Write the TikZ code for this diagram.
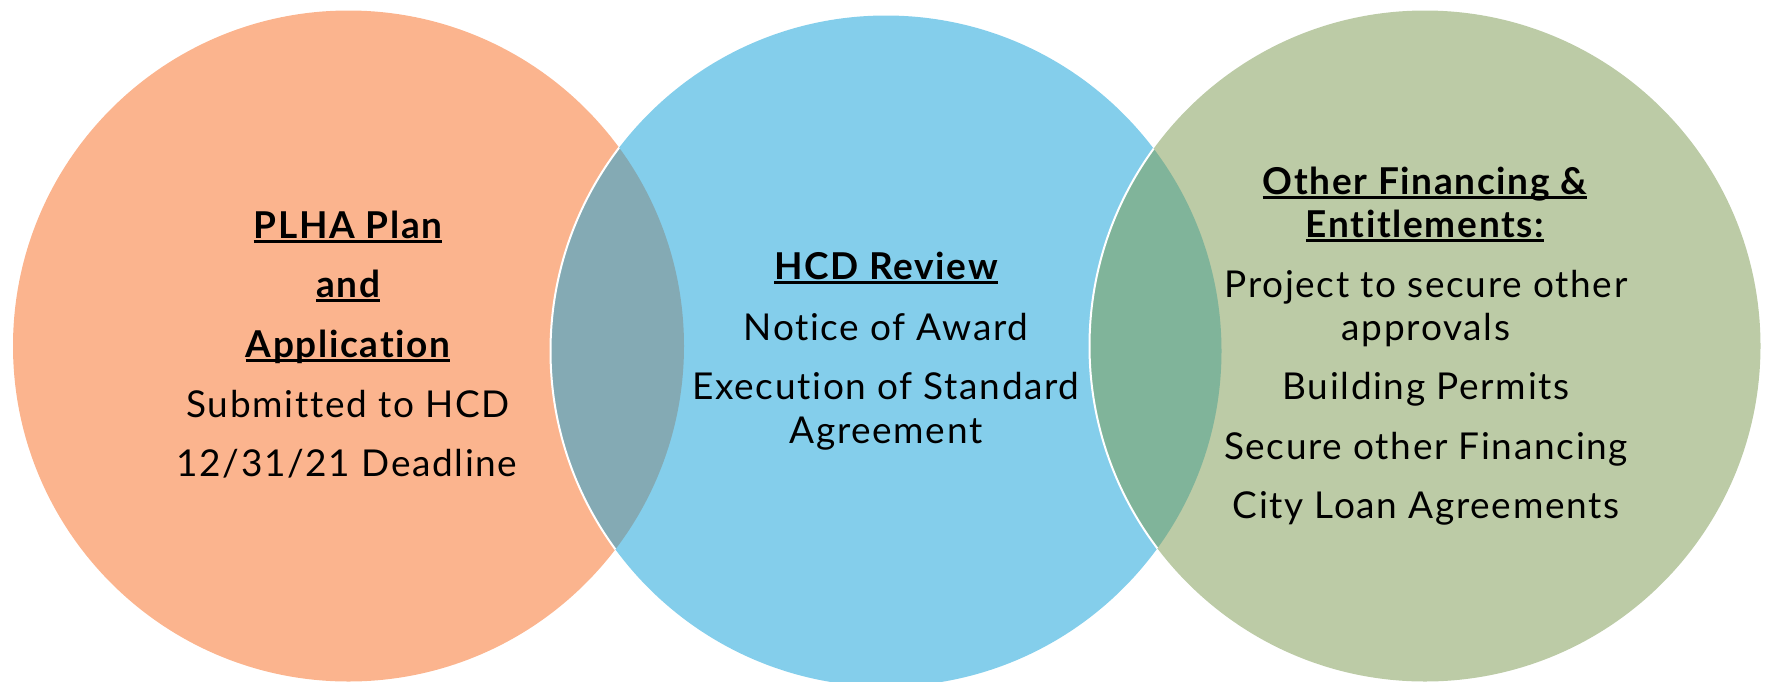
\documentclass[tikz,border=0pt]{standalone}
\usepackage{fontspec}
\setmainfont{Lato}[Ligatures=NoCommon, LetterSpace=4.5]
\definecolor{corange}{HTML}{FBB48E}
\definecolor{cblue}{HTML}{84CEEB}
\definecolor{cgreen}{HTML}{BCCBA6}
\definecolor{covone}{HTML}{84AAB4}
\definecolor{covtwo}{HTML}{80B49A}
\newcommand{\myul}[1]{\setbox0=\hbox{#1}\rlap{\rule[-5pt]{\wd0}{3pt}}\box0}
\tikzset{
  txt/.style={anchor=base, inner sep=0pt, font=\fontsize{37}{44}\selectfont},
  head/.style={anchor=base, inner sep=0pt, font=\fontsize{37}{44}\selectfont\bfseries},
  sep/.style={draw=white, line width=2pt}
}
\begin{document}
\begin{tikzpicture}[x=1pt,y=-1pt]
\useasboundingbox (0,0) rectangle (1765,681);
\coordinate (L) at (348.5,346);
\coordinate (M) at (886,351);
\coordinate (R) at (1425,346);
% circles
\fill[corange] (L) circle (335.5pt);
\fill[cblue] (M) circle (335.5pt);
\fill[cgreen] (R) circle (335.5pt);
% overlaps
\begin{scope}
  \clip (L) circle (335.5pt);
  \fill[covone] (M) circle (335.5pt);
  \draw[sep] (M) circle (335.5pt);
\end{scope}
\begin{scope}
  \clip (M) circle (335.5pt);
  \fill[covtwo] (R) circle (335.5pt);
  \draw[sep] (R) circle (335.5pt);
\end{scope}
% left texts
\node[head] (l1) at (348,238) {\myul{PLHA Plan}};
\node[head] (l2) at (348,297) {\myul{and}};
\node[head] (l3) at (348,357) {\myul{Application}};
\node[txt]  (l4) at (348,417) {Submitted to HCD};
\node[txt]  (l5) at (347,476) {12/31/21 Deadline};
% middle texts
\node[head] (m1) at (886,279) {\myul{HCD Review}};
\node[txt]  (m2) at (886,340) {Notice of Award};
\node[txt]  (m3) at (886,399) {Execution of Standard};
\node[txt]  (m4) at (886,443) {Agreement};
% right texts
\node[head] (r1) at (1425,194) {\myul{Other Financing \&}};
\node[head] (r2) at (1425,237) {\myul{Entitlements:}};
\node[txt]  (r3) at (1426,297) {Project to secure other};
\node[txt]  (r4) at (1426,340) {approvals};
\node[txt]  (r5) at (1426,399) {Building Permits};
\node[txt]  (r6) at (1426,459) {Secure other Financing};
\node[txt]  (r7) at (1426,518) {City Loan Agreements};
\end{tikzpicture}
\end{document}
